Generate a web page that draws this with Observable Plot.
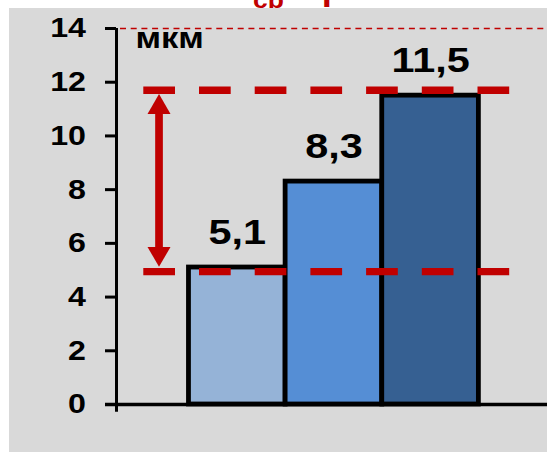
<!DOCTYPE html>
<html>
<head>
<meta charset="utf-8">
<script src="https://cdn.jsdelivr.net/npm/d3@7"></script>
<script src="https://cdn.jsdelivr.net/npm/@observablehq/plot@0.6"></script>
<style>
  html, body { margin: 0; padding: 0; background: #ffffff; }
  #head { position: relative; height: 8px; width: 547px; overflow: hidden; }
  #head span { position: absolute; font-family: "Liberation Sans", Arial, sans-serif; font-weight: bold; color: #c00000; white-space: nowrap; transform-origin: left top; transform: scaleX(1.15); }
  #chart svg { display: block; margin-left: 9px; background: #d9d9d9; }
</style>
</head>
<body>
<div id="head"><span id="sub" style="left:253px; top:-11.5px; font-size:23px; line-height:23px;">ср</span><span id="bar" style="left:322px; top:-18px; font-size:30px; line-height:30px;">I</span></div>
<div id="chart"></div>
<script>
// Mean grain size for the three samples, micrometres
const barValues = [5.1, 8.3, 11.5];
// Spread band drawn with the dashed red lines and the double arrow
const rangeLevels = [4.95, 11.7];
// Upper reference level (thin dashed line)
const topLevel = [14];
// Y axis ticks
const yTicks = [0, 2, 4, 6, 8, 10, 12, 14];
const unitLabel = ["мкм"];

const barFill = ["#95b3d7", "#558ed5", "#366092"];
const red = "#c00000";
const font = "'Liberation Sans', Arial, sans-serif";
const fmt = (v) => String(v).replace(".", ",");

const bars = barValues.map((v, i) => ({ i, v }));

// x runs in bar slots: bar i covers [i, i + 1]
const xDomain = [-0.75, 3.71];
const arrowX = -0.31;

const chart = Plot.plot({
  width: 538,
  height: 444,
  marginTop: 20,
  marginBottom: 48,
  marginLeft: 107,
  marginRight: 0,
  style: { background: "#d9d9d9", fontFamily: font, overflow: "visible" },
  x: { type: "linear", domain: xDomain, axis: null },
  y: { domain: [0, 14], axis: null },
  marks: [
    // thin dashed reference at the top of the scale
    Plot.ruleY(topLevel, { stroke: red, strokeWidth: 1.5, strokeDasharray: "6,4.7", insetLeft: 4 }),
    // bars
    Plot.rectY(bars, {
      x1: "i",
      x2: (d) => d.i + 1,
      y: "v",
      fill: (d) => barFill[d.i],
      stroke: "black",
      strokeWidth: 4.8
    }),
    // axes lines
    Plot.ruleY([0], { stroke: "black", strokeWidth: 3.3, insetLeft: -11 }),
    Plot.ruleX([xDomain[0]], { y1: 14, y2: 0, stroke: "black", strokeWidth: 3, insetBottom: -7.7 }),
    Plot.axisY({
      ticks: yTicks,
      tickSize: 11,
      tickPadding: 19.5,
      tickFormat: (d) => String(d),
      stroke: "black",
      strokeWidth: 3,
      fill: "black",
      fontSize: 28,
      fontWeight: "bold",
      label: null
    }),
    // dashed spread levels
    Plot.ruleY(rangeLevels, {
      stroke: red,
      strokeWidth: 7.3,
      strokeDasharray: "31.7,24",
      insetLeft: 27.3,
      insetRight: 36
    }),
    // double arrow between the levels
    Plot.ruleX([arrowX], {
      y1: rangeLevels[1],
      y2: rangeLevels[0],
      stroke: red,
      strokeWidth: 7.7,
      insetTop: 12,
      insetBottom: 12
    }),
    Plot.dot([rangeLevels[1]], { x: arrowX, y: (d) => d, symbol: "triangle", r: 8.54, fill: red, dy: 17 }),
    Plot.dot([rangeLevels[0]], { x: arrowX, y: (d) => d, symbol: "triangle", r: 8.54, fill: red, rotate: 180, dy: -18 }),
    // value labels
    Plot.text(bars, {
      x: (d) => d.i + 0.5,
      y: "v",
      text: (d) => fmt(d.v),
      dy: -23.5,
      lineAnchor: "bottom",
      textAnchor: "middle",
      fontSize: 36,
      fontWeight: "bold",
      fill: "black"
    }),
    // unit label
    Plot.text(unitLabel, {
      frameAnchor: "top-left",
      text: (d) => d,
      dx: 19,
      dy: 19.7,
      lineAnchor: "bottom",
      textAnchor: "start",
      fontSize: 30,
      fontWeight: "bold",
      fill: "black"
    })
  ]
});

// the lettering in this figure is set slightly wide
d3.select(chart).selectAll("text").each(function () {
  const t = this.getAttribute("transform") || "";
  this.setAttribute("transform", t + " scale(1.15,1)");
});

document.getElementById("chart").appendChild(chart);
</script>
</body>
</html>
